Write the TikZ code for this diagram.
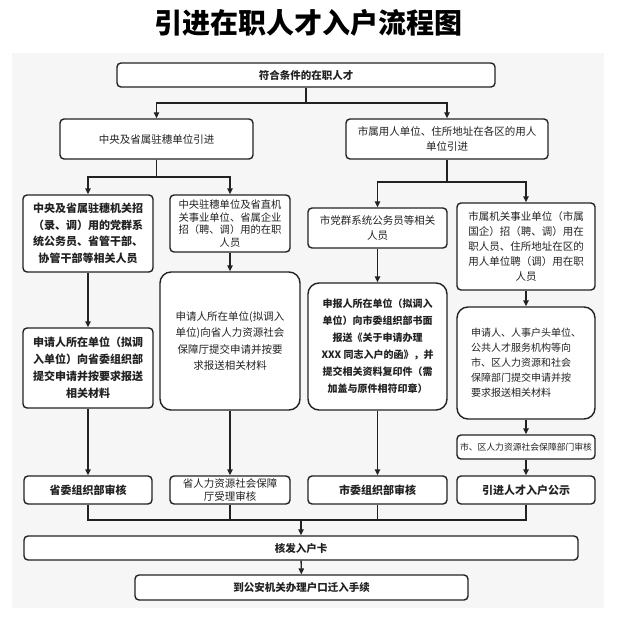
\documentclass[tikz,border=0pt]{standalone}
\usepackage{fontspec}
\setmainfont{Noto Sans CJK SC}
\usetikzlibrary{arrows.meta,calc}
\definecolor{ink}{HTML}{222222}
\definecolor{panel}{HTML}{F6F6F6}
\begin{document}
\begin{tikzpicture}[x=1pt,y=-1pt,
  box/.style={draw=ink, line width=1.4pt, rounded corners=4pt, fill=white, align=center, inner sep=0pt, text=ink},
  bigbox/.style={box, rounded corners=11pt},
  conn/.style={draw=ink, line width=1.4pt},
  arr/.style={conn, -{Triangle[length=6pt,width=5.5pt]}}
]
\useasboundingbox (0,0) rectangle (617,639);
\fill[white] (0,0) rectangle (617,639);
\fill[panel] (12,53) rectangle (604,608);

\node[font=\bfseries\fontsize{28}{28}\selectfont, text=black] (title) at (308,23) {引进在职人才入户流程图};

\node[box, minimum width=378, minimum height=24, font=\bfseries\fontsize{10.5}{12}\selectfont] (top) at (306,75) {符合条件的在职人才};

\node[box, minimum width=193, minimum height=40, font=\fontsize{10.5}{15}\selectfont] (L) at (156.5,139) {中央及省属驻穗单位引进};
\node[box, minimum width=202, minimum height=40, font=\fontsize{10.5}{15}\selectfont] (R) at (447,139) {市属用人单位、住所地址在各区的用人\\单位引进};

\node[box, minimum width=130, minimum height=77, font=\bfseries\fontsize{11}{16.7}\selectfont] (A1) at (88,233.5) {中央及省属驻穗机关招\\（录、调）用的党群系\\统公务员、省管干部、\\协管干部等相关人员};
\node[box, minimum width=120, minimum height=57, font=\fontsize{10.3}{12.5}\selectfont] (A2) at (230,223.5) {中央驻穗单位及省直机\\关事业单位、省属企业\\招（聘、调）用的在职\\人员};

\node[box, minimum width=139, minimum height=40, font=\fontsize{10.5}{15}\selectfont] (B1) at (377.5,228) {市党群系统公务员等相关\\人员};
\node[box, minimum width=138, minimum height=87, font=\fontsize{10.5}{15}\selectfont] (B2) at (526,246.5) {市属机关事业单位（市属\\国企）招（聘、调）用在\\职人员、住所地址在区的\\用人单位聘（调）用在职\\人员};

\node[box, minimum width=130, minimum height=80, font=\bfseries\fontsize{11}{17}\selectfont] (A3) at (88,368) {申请人所在单位（拟调\\入单位）向省委组织部\\提交申请并按要求报送\\相关材料};
\node[bigbox, minimum width=140, minimum height=138, font=\fontsize{10.5}{16.5}\selectfont] (A4) at (230,341) {申请人所在单位(拟调入\\单位)向省人力资源社会\\保障厅提交申请并按要\\求报送相关材料};

\node[bigbox, minimum width=139, minimum height=127, font=\bfseries\fontsize{10}{17}\selectfont] (B3) at (377.5,346.5) {申报人所在单位（拟调入\\单位）向市委组织部书面\\报送《关于申请办理\\XXX 同志入户的函》，并\\提交相关资料复印件（需\\加盖与原件相符印章）};
\node[bigbox, minimum width=138, minimum height=112, font=\fontsize{10}{15}\selectfont] (B4) at (526,363) {\begin{tabular}{@{}l@{}}申请人、人事户头单位、\\公共人才服务机构等向\\市、区人力资源和社会\\保障部门提交申请并按\\要求报送相关材料\end{tabular}};
\node[box, minimum width=138, minimum height=24, font=\fontsize{8.8}{10}\selectfont] (B5) at (526,447) {市、区人力资源社会保障部门审核};

\node[box, minimum width=128, minimum height=28, font=\bfseries\fontsize{11}{12}\selectfont] (A5) at (88,490) {省委组织部审核};
\node[box, minimum width=120, minimum height=28, font=\fontsize{10.5}{13}\selectfont] (A6) at (230,490) {省人力资源社会保障\\厅受理审核};
\node[box, minimum width=139, minimum height=28, font=\bfseries\fontsize{11}{12}\selectfont] (B7) at (377.5,490) {市委组织部审核};
\node[box, minimum width=138, minimum height=28, font=\bfseries\fontsize{11}{12}\selectfont] (B6) at (526,490) {引进人才入户公示};

\node[box, minimum width=554, minimum height=24, font=\bfseries\fontsize{10.5}{12}\selectfont] (main) at (301,548) {核发入户卡};
\node[box, minimum width=333, minimum height=25, font=\bfseries\fontsize{10.5}{12}\selectfont] (bot) at (301.5,587.5) {到公安机关办理户口迁入手续};

% connectors
\coordinate (j0) at (306,103);
\coordinate (jL) at (156.5,177);
\coordinate (jR) at (447,182);
\coordinate (bus) at (301,520);

\draw[conn] (top) -- (j0);
\draw[arr] (j0) -| (L);
\draw[arr] (j0) -| (R);

\draw[conn] (L) -- (jL);
\draw[arr] (jL) -| (A1);
\draw[arr] (jL) -| (A2);

\draw[conn] (R) -- (jR);
\draw[arr] (jR) -| (B1);
\draw[arr] (jR) -| (B2);

\draw[arr] (A1) -- (A3);
\draw[arr] (A2) -- (A4);
\draw[arr] (B1) -- (B3);
\draw[arr] (B2) -- (B4);

\draw[arr] (A3) -- (A5);
\draw[arr] (A4) -- (A6);
\draw[arr] (B3) -- (B7);
\draw[arr] (B4) -- (B5);
\draw[arr] (B5) -- (B6);

\draw[conn] (A5.south) |- (bus);
\draw[conn] (B6.south) |- (bus);
\draw[conn] (A6.south) -- (A6.south |- bus);
\draw[conn] (B7.south) -- (B7.south |- bus);
\draw[arr] (bus) -- (main);
\draw[arr] (main) -- (bot);
\end{tikzpicture}
\end{document}
